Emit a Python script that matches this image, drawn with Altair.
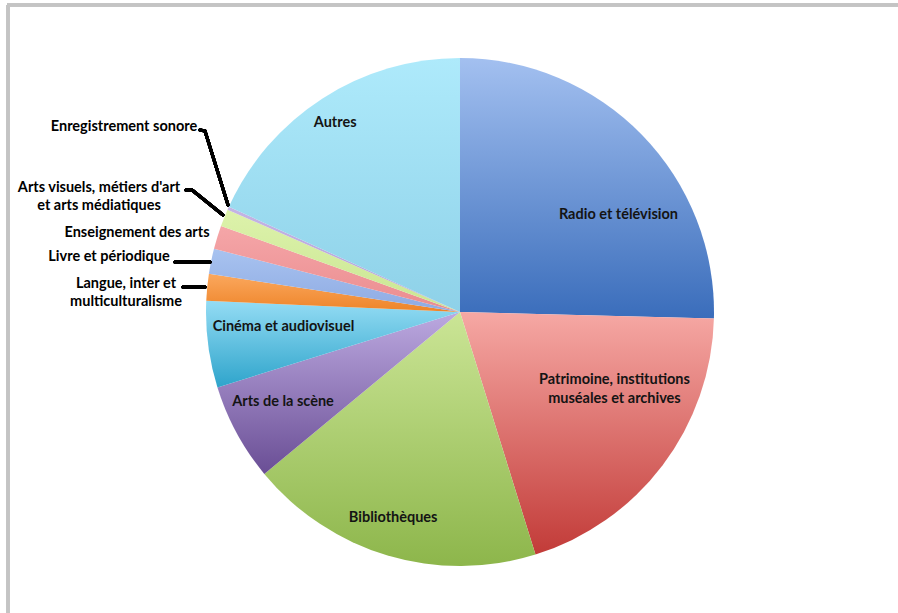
import math
import altair as alt
import pandas as pd

# ---- data (clockwise from 12 o'clock) ----
categories = [
    "Radio et télévision",
    "Patrimoine, institutions muséales et archives",
    "Bibliothèques",
    "Arts de la scène",
    "Cinéma et audiovisuel",
    "Langue, inter et multiculturalisme",
    "Livre et périodique",
    "Enseignement des arts",
    "Arts visuels, métiers d'art et arts médiatiques",
    "Enregistrement sonore",
    "Autres",
]
values = [25.4, 19.8, 18.8, 6.2, 5.5, 1.7, 1.6, 1.5, 1.1, 0.2, 18.2]
labels = [
    "Radio et télévision",
    "Patrimoine, institutions\nmuséales et archives",
    "Bibliothèques",
    "Arts de la scène",
    "Cinéma et audiovisuel",
    "Langue, inter et\nmulticulturalisme",
    "Livre et périodique",
    "Enseignement des arts",
    "Arts visuels, métiers d'art\net arts médiatiques",
    "Enregistrement sonore",
    "Autres",
]
top_colors = ["#a3c0f0", "#f6a8a4", "#cbe596", "#bca9e0", "#94dcf4", "#fba85e",
              "#a8c3f0", "#f5a6a8", "#ddf2ab", "#c4b4e4", "#aeeafb"]
bottom_colors = ["#3a6dbb", "#c23b38", "#8db64b", "#6a4e95", "#2ea4cb", "#ee8429",
                 "#8eaae2", "#ea8c8f", "#c9e692", "#b3a0d8", "#8ed1e8"]

df = pd.DataFrame({
    "categorie": categories,
    "valeur": values,
    "etiquette": labels,
    "ordre": list(range(len(categories))),
})
total = sum(values)

# ---- layout ----
W, H = 898, 613
CX, CY, R = 460, 312, 254
FONT = "Lato"
FS = 14.5
theta_scale = alt.Scale(domain=[0, total], range=[0, 2 * math.pi])

base = alt.Chart(df).transform_window(
    fin="sum(valeur)", sort=[alt.SortField("ordre")], frame=[None, 0]
).transform_calculate(
    debut="datum.fin - datum.valeur",
    milieu="datum.fin - datum.valeur / 2",
)

layers = []

# slices with per-slice vertical gradient
for cat, top, bot in zip(categories, top_colors, bottom_colors):
    grad = {
        "gradient": "linear", "x1": 0, "y1": 0, "x2": 0, "y2": 1,
        "stops": [{"offset": 0, "color": top}, {"offset": 1, "color": bot}],
    }
    layers.append(
        base.transform_filter(alt.datum.categorie == cat)
        .mark_arc(radius=R, fill=grad, strokeWidth=0)
        .encode(
            theta=alt.Theta("debut:Q", scale=theta_scale, stack=False),
            theta2="fin:Q",
            x=alt.value(CX),
            y=alt.value(CY),
        )
    )

# inner labels: (radius, dx, dy)
inner = {
    "Radio et télévision": (185, 26, 32),
    "Patrimoine, institutions muséales et archives": (171, 18, -35),
    "Bibliothèques": (217, -5, -2),
    "Arts de la scène": (199, -2, -5),
    "Cinéma et audiovisuel": (177, -1, -8),
    "Autres": (227, -2, 2),
}
for cat, (rr, dx, dy) in inner.items():
    layers.append(
        base.transform_filter(alt.datum.categorie == cat)
        .mark_text(radius=rr, dx=dx, dy=dy, font=FONT, fontSize=FS, fontWeight="bold",
                   color="#141414", align="center", baseline="middle",
                   lineBreak="\n", lineHeight=19)
        .encode(
            theta=alt.Theta("milieu:Q", scale=theta_scale, stack=False),
            x=alt.value(CX),
            y=alt.value(CY),
            text="etiquette:N",
        )
    )

# outer labels (annotation positions, first line)
outer = {
    "Enregistrement sonore": (124, 127),
    "Arts visuels, métiers d'art et arts médiatiques": (99, 188),
    "Enseignement des arts": (137, 233),
    "Livre et périodique": (109, 257),
    "Langue, inter et multiculturalisme": (126, 284),
}
for cat, (xx, yy) in outer.items():
    layers.append(
        base.transform_filter(alt.datum.categorie == cat)
        .mark_text(font=FONT, fontSize=FS, fontWeight="bold", color="#000000",
                   align="center", baseline="middle", lineBreak="\n", lineHeight=18)
        .encode(x=alt.value(xx), y=alt.value(yy), text="etiquette:N")
    )

# leader lines
segments = [
    (200, 130, 205, 131), (205, 131, 228, 205),
    (186, 190, 192, 190), (192, 190, 223, 215),
    (175, 262, 210, 262),
    (183, 287, 205, 287),
]
for x1, y1, x2, y2 in segments:
    layers.append(
        alt.Chart(df).mark_rule(color="#000000", strokeWidth=3, strokeCap="round")
        .encode(x=alt.value(x1), y=alt.value(y1), x2=alt.value(x2), y2=alt.value(y2))
    )

# frame (top and left borders of the original chart area)
layers.append(
    alt.Chart(df).mark_rule(color="#c4c4c4", strokeWidth=2.5)
    .encode(x=alt.value(7), x2=alt.value(W + 5), y=alt.value(5), y2=alt.value(5))
)
layers.append(
    alt.Chart(df).mark_rule(color="#c4c4c4", strokeWidth=2.5)
    .encode(x=alt.value(8), x2=alt.value(8), y=alt.value(5), y2=alt.value(H + 5))
)

chart = alt.layer(*layers).properties(
    width=W, height=H,
    autosize=alt.AutoSizeParams(type="none"),
    padding=0,
    background="white",
).configure_view(stroke=None)

chart.save("out.html", embed_options={"renderer": "svg", "actions": False})
